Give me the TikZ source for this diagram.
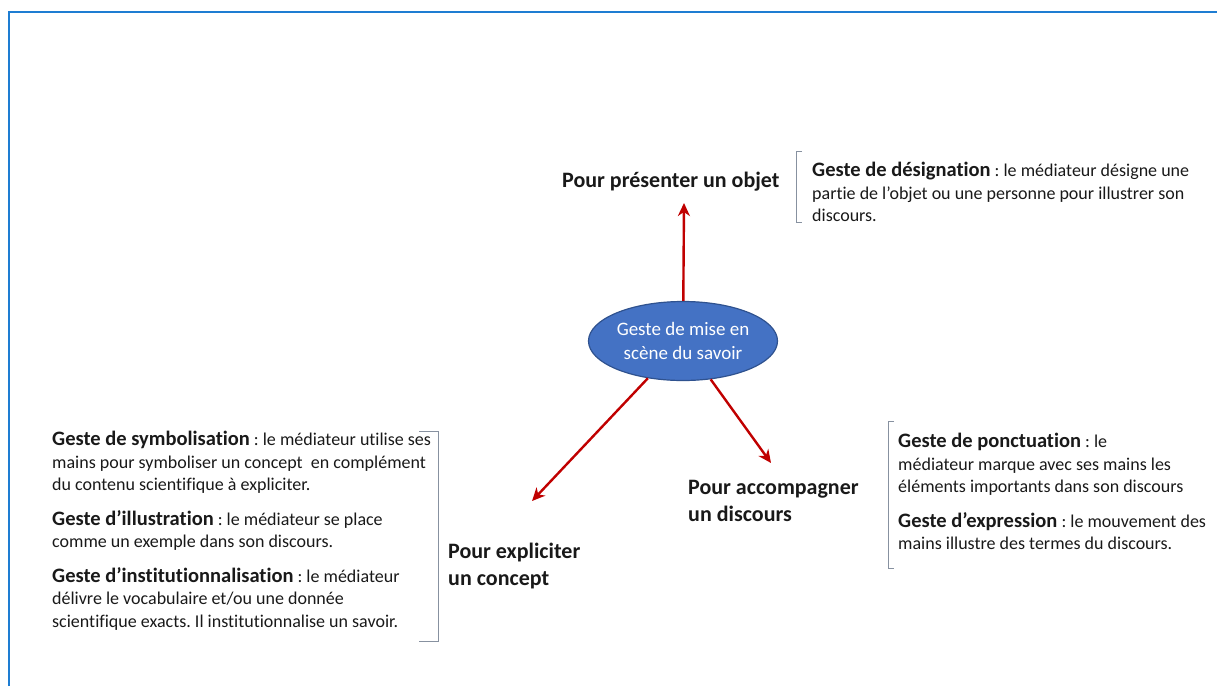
\documentclass[tikz,border=0pt]{standalone}
\usepackage{fontspec}
\setmainfont[Ligatures={NoCommon}]{Carlito}
\usetikzlibrary{shapes.geometric, arrows.meta}
\usetikzlibrary{positioning}
\frenchspacing

\definecolor{bleuCentre}{RGB}{68,114,196}
\definecolor{bleuBord}{RGB}{47,82,143}
\definecolor{bleuCadre}{RGB}{30,125,210}
\definecolor{rougeFleche}{RGB}{192,0,0}
\definecolor{grisCrochet}{RGB}{135,145,160}
\definecolor{texte}{RGB}{25,25,25}

\newcommand{\nomgeste}[1]{{\bfseries\fontsize{20.5}{22.5}\selectfont #1}}

\tikzset{
  fleche/.style={-{Stealth[length=13pt,width=12pt,inset=4pt]}, line width=2.4pt, draw=rougeFleche},
  titre/.style={font=\bfseries\fontsize{22}{27}\selectfont, text=texte, align=left, inner sep=0pt},
  geste/.style={font=\fontsize{18}{22.5}\selectfont, text=texte, align=left, inner sep=0pt},
  crochet/.style={draw=grisCrochet, line width=0.9pt},
  centre/.style={ellipse, draw=bleuBord, fill=bleuCentre, line width=1.2pt, minimum width=189pt, minimum height=79pt, text=white, align=center, font=\fontsize{19}{24}\selectfont, inner sep=0pt},
  cadre/.style={draw=bleuCadre, line width=2pt}
}

\begin{document}
\begin{tikzpicture}[x=1pt,y=-1pt]
        \useasboundingbox (0,0) rectangle (1217,686);
        \draw[cadre] (9,686) |- (1217,12);

        \node[centre] (savoir) at (683,341) {Geste de mise en\\scène du savoir};

        \node[titre, anchor=west] (objet) at (562,182) {Pour présenter un objet};
        \node[titre, anchor=north west] (concept) at (448,543) {Pour expliciter\\un concept};
        \node[titre, anchor=north west] (discours) at (688,480) {Pour accompagner\\un discours};

        \node[geste, anchor=north west] (designation) at (812,162) {\nomgeste{Geste de désignation} : le médiateur désigne une\\partie de l’objet ou une personne pour illustrer son\\discours.};
        \node[geste, anchor=north west] (symbolisation) at (52,431) {\nomgeste{Geste de symbolisation} : le médiateur utilise ses\\mains pour symboliser un concept~ en complément\\du contenu scientifique à expliciter.\\[12pt]\nomgeste{Geste d’illustration} : le médiateur se place\\comme un exemple dans son discours.\\[12pt]\nomgeste{Geste d’institutionnalisation} : le médiateur\\délivre le vocabulaire et/ou une donnée\\scientifique exacts. Il institutionnalise un savoir.};
        \node[geste, anchor=north west] (ponctuation) at (898,433) {\nomgeste{Geste de ponctuation} : le\\médiateur marque avec ses mains les\\éléments importants dans son discours\\[12pt]\nomgeste{Geste d’expression} : le mouvement des\\mains illustre des termes du discours.};

        % crochets
        \draw[crochet] ([xshift=-10pt,yshift=11pt]designation.north west) -- ++(-6pt,0) |- ([xshift=-10pt,yshift=-1pt]designation.south west);
        \draw[crochet] ([xshift=-12pt,yshift=0pt]symbolisation.north east) -- ++(19pt,0) |- ([xshift=-12pt,yshift=-11pt]symbolisation.south east);
        \draw[crochet] ([xshift=-4pt,yshift=12pt]ponctuation.north west) -- ++(-6pt,0) |- ([xshift=-4pt,yshift=-19pt]ponctuation.south west);

        %% fleches
        \coordinate (pointeobjet) at (684,203);
        \coordinate (pointeconcept) at (532,501);
        \coordinate (pointediscours) at (771,463);
        \draw[fleche] (savoir) -- (pointeobjet);
        \draw[fleche] (savoir) -- (pointeconcept);
        \draw[fleche] (savoir) -- (pointediscours);
\end{tikzpicture}
\end{document}
